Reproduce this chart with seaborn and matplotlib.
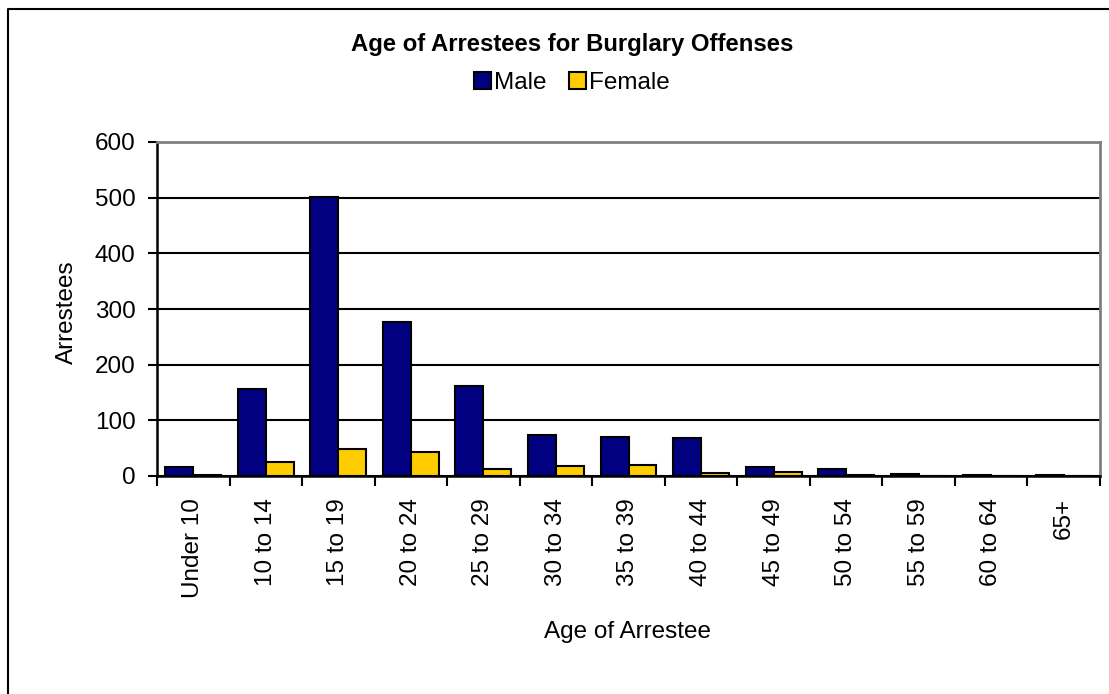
import numpy as np
import pandas as pd
import matplotlib
matplotlib.use('Agg')
import matplotlib.pyplot as plt
import matplotlib.lines as mlines
import matplotlib.patches as mpatches
import seaborn as sns

# data
age_groups = ['Under 10', '10 to 14', '15 to 19', '20 to 24', '25 to 29', '30 to 34',
              '35 to 39', '40 to 44', '45 to 49', '50 to 54', '55 to 59', '60 to 64', '65+']
male = [17, 156, 502, 276, 162, 73, 70, 69, 17, 12, 3, 1, 1]
female = [2, 25, 48, 44, 13, 18, 20, 5, 7, 1, 0, 0, 0]
series = ['Male', 'Female']
colours = ['#000080', '#FFCC00']

df = pd.DataFrame({
    'age': age_groups * 2,
    'count': male + female,
    'sex': ['Male'] * len(male) + ['Female'] * len(female),
})

sns.set_style('white')
plt.rcParams['font.family'] = ['Liberation Sans', 'DejaVu Sans']
for key in ['text.color', 'axes.labelcolor', 'xtick.color', 'ytick.color']:
    plt.rcParams[key] = 'black'

W, H = 1109, 694
fig = plt.figure(figsize=(W / 100, H / 100), dpi=100)
ax = fig.add_axes([157 / W, 1 - 476 / H, (1100 - 157) / W, (476 - 142) / H])

sns.barplot(data=df, x='age', y='count', hue='sex', palette=colours, width=0.77,
            edgecolor='black', linewidth=1.5, saturation=1, ax=ax, legend=False, zorder=3)

fs = 17.5
ax.set_ylim(0, 600)
ax.set_xlim(-0.5, len(age_groups) - 0.5)
ax.set_yticks(range(0, 601, 100))
ax.tick_params(axis='y', labelsize=fs, length=6.5, width=1.5, direction='out', left=True, pad=9)
ax.set_xticks(range(len(age_groups)))
ax.set_xticklabels(age_groups, rotation=90, fontsize=fs)
ax.tick_params(axis='x', which='major', length=0, pad=16)
ax.set_xticks(np.arange(-0.5, len(age_groups)), minor=True)
ax.tick_params(axis='x', which='minor', length=7, width=1.5, direction='out', bottom=True)

ax.yaxis.grid(True, color='black', linewidth=1.5)
ax.set_axisbelow(True)
ax.yaxis.get_gridlines()[-1].set_visible(False)

for side in ['left', 'bottom']:
    ax.spines[side].set_color('black')
    ax.spines[side].set_linewidth(1.8)
for side in ['top', 'right']:
    ax.spines[side].set_visible(True)
    ax.spines[side].set_color('#808080')
    ax.spines[side].set_linewidth(2)

ax.set_xlabel('')
ax.set_ylabel('')
fig.text(67 / W, 1 - 312 / H, 'Arrestees', rotation=90, ha='center', va='center', fontsize=fs)
fig.text(628 / W, 1 - 632 / H, 'Age of Arrestee', ha='center', va='center', fontsize=fs)
fig.text(572 / W, 1 - 45 / H, 'Age of Arrestees for Burglary Offenses', ha='center', va='center',
         fontsize=17.2, fontweight='bold')

handles = [mpatches.Patch(facecolor=c, edgecolor='black', linewidth=1.5, label=s)
           for s, c in zip(series, colours)]
fig.legend(handles=handles, loc='center', bbox_to_anchor=(572 / W, 1 - 83 / H), ncol=2,
           frameon=False, fontsize=fs, handlelength=0.7, handleheight=0.7,
           handletextpad=0.15, columnspacing=0.9, borderpad=0)

# outer chart border (only left and top edges visible in the crop)
fig.add_artist(mlines.Line2D([8 / W, 8 / W, 1.0], [0.0, 1 - 9 / H, 1 - 9 / H],
                             transform=fig.transFigure, color='black', linewidth=1.5))

fig.savefig('out.png', dpi=100)
